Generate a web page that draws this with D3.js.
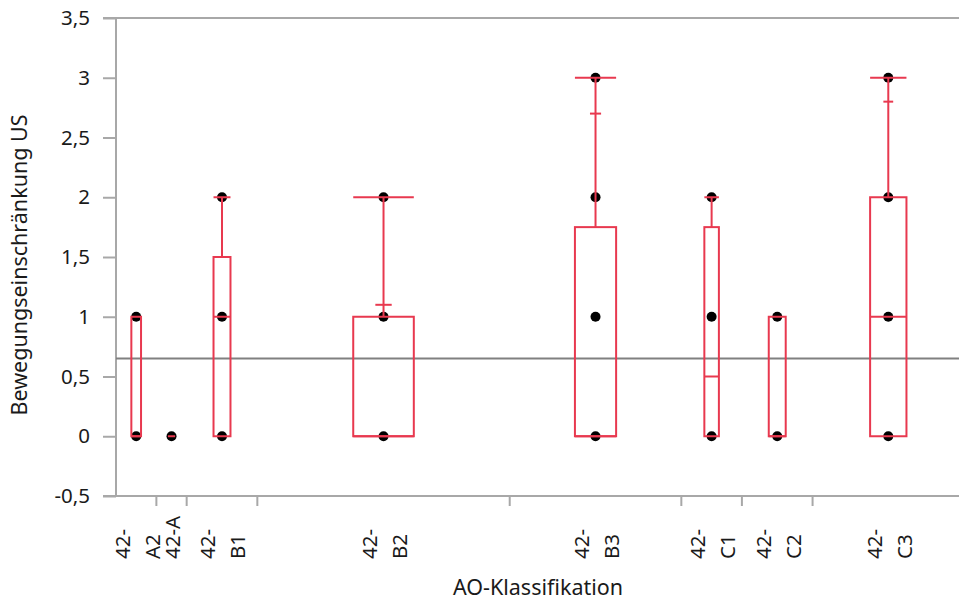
<!DOCTYPE html>
<html>
<head>
<meta charset="utf-8">
<script src="https://cdn.jsdelivr.net/npm/d3@7"></script>
<style>
  html, body { margin: 0; padding: 0; background: #fff; }
  svg { display: block; }
  text { font-family: "Noto Sans", "Open Sans", sans-serif; fill: #1a1a1a; }
</style>
</head>
<body>
<svg id="chart" width="959" height="601"></svg>
<script>
// ---- data ----
const categories = ["42-A2", "42-A", "42-B1", "42-B2", "42-B3", "42-C1", "42-C2", "42-C3"];
const labelLines = [["42-", "A2"], ["42-A"], ["42-", "B1"], ["42-", "B2"], ["42-", "B3"], ["42-", "C1"], ["42-", "C2"], ["42-", "C3"]];
const groupCounts = [4, 3, 7, 25, 17, 6, 7, 15];          // estimated group sizes (category widths)
const q1Values = [0, 0, 0, 0, 0, 0, 0, 0];
const medianValues = [0, 0, 1, 0, 0, 0.5, 0, 1];
const q3Values = [1, 0, 1.5, 1, 1.75, 1.75, 1, 2];
const maxValues = [1, 0, 2, 2, 3, 2, 1, 3];
const p90Values = [null, null, null, 1.1, 2.7, null, null, 2.8];
const pointValues = [[0, 1], [0], [0, 1, 2], [0, 1, 2], [0, 1, 2, 3], [0, 1, 2], [0, 1], [0, 1, 2, 3]];
const grandMean = 0.65;
const yTicks = [-0.5, 0, 0.5, 1, 1.5, 2, 2.5, 3, 3.5];
const yTitle = "Bewegungseinschränkung US";
const xTitle = "AO-Klassifikation";

// ---- layout ----
const svg = d3.select("#chart");
const mLeft = 116, mRight = 964, mTop = 18, mBottom = 496;
const red = "#e8394f", axisGray = "#a8a8a8";

const y = d3.scaleLinear().domain([-0.5, 3.5]).range([mBottom, mTop]);
const total = d3.sum(groupCounts);
const x = d3.scaleLinear().domain([0, total]).range([mLeft, mRight]);
const cum = [0];
groupCounts.forEach((c, i) => cum.push(cum[i] + c));
const groups = categories.map((name, i) => {
  const x0 = x(cum[i]), x1 = x(cum[i + 1]);
  return {
    name, i, x0, x1, cx: (x0 + x1) / 2, span: x1 - x0,
    q1: q1Values[i], med: medianValues[i], q3: q3Values[i],
    max: maxValues[i], p90: p90Values[i], pts: pointValues[i], lines: labelLines[i]
  };
});

const locale = d3.formatLocale({ decimal: ",", thousands: ".", grouping: [3], currency: ["", "€"], minus: "-" });
const fmt = locale.format("~g");

// frame top line
svg.append("line").attr("x1", mLeft - 13).attr("x2", 959).attr("y1", mTop).attr("y2", mTop)
  .attr("stroke", axisGray).attr("stroke-width", 2);

// y axis
const yAxis = svg.append("g").attr("transform", `translate(${mLeft},0)`)
  .call(d3.axisLeft(y).tickValues(yTicks).tickSize(13).tickPadding(13).tickFormat(fmt));
yAxis.select(".domain").remove();
yAxis.selectAll(".tick line").attr("stroke", axisGray).attr("stroke-width", 2);
yAxis.selectAll(".tick text").style("font-size", "20.5px").attr("fill", "#1a1a1a");
svg.append("line").attr("x1", mLeft).attr("x2", mLeft).attr("y1", mTop).attr("y2", mBottom)
  .attr("stroke", axisGray).attr("stroke-width", 2);

// x axis line and boundary ticks
svg.append("line").attr("x1", mLeft - 13).attr("x2", 959).attr("y1", mBottom).attr("y2", mBottom)
  .attr("stroke", axisGray).attr("stroke-width", 2);
svg.append("g").selectAll("line").data(cum.slice(1, -1)).join("line")
  .attr("x1", d => x(d)).attr("x2", d => x(d)).attr("y1", mBottom).attr("y2", mBottom + 10)
  .attr("stroke", axisGray).attr("stroke-width", 2);

// mean line
svg.append("line").attr("x1", mLeft).attr("x2", 959).attr("y1", y(grandMean)).attr("y2", y(grandMean))
  .attr("stroke", "#808080").attr("stroke-width", 2);

// points
const gp = svg.append("g");
groups.forEach(g => {
  gp.selectAll(null).data(g.pts).join("circle")
    .attr("cx", g.cx).attr("cy", d => y(d)).attr("r", 5).attr("fill", "#000");
});

// boxes
const gb = svg.append("g").attr("fill", "none").attr("stroke", red).attr("stroke-width", 2);
groups.forEach(g => {
  const bw = g.span * 0.24;
  const bx0 = g.cx - bw / 2, bx1 = g.cx + bw / 2;
  gb.append("rect").attr("x", bx0).attr("y", y(g.q3)).attr("width", bw).attr("height", Math.max(0, y(g.q1) - y(g.q3)));
  gb.append("line").attr("x1", bx0).attr("x2", bx1).attr("y1", y(g.med)).attr("y2", y(g.med));
  if (g.max > g.q3) {
    gb.append("line").attr("x1", g.cx).attr("x2", g.cx).attr("y1", y(g.q3)).attr("y2", y(g.max));
    gb.append("line").attr("x1", bx0).attr("x2", bx1).attr("y1", y(g.max)).attr("y2", y(g.max));
  }
  if (g.p90 != null) {
    const tw = bw * 0.27;
    gb.append("line").attr("x1", g.cx - tw / 2).attr("x2", g.cx + tw / 2).attr("y1", y(g.p90)).attr("y2", y(g.p90));
  }
});

// x category labels (rotated)
const gl = svg.append("g");
groups.forEach(g => {
  const n = g.lines.length;
  g.lines.forEach((t, k) => {
    const lx = g.cx + (k - (n - 1) / 2) * 30 + 1;
    gl.append("text").attr("transform", `translate(${lx},559) rotate(-90)`)
      .attr("dy", "0.36em").attr("text-anchor", "start").style("font-size", "20.5px").text(t);
  });
});

// titles
svg.append("text").attr("transform", `translate(27,${(mTop + mBottom) / 2 + 8}) rotate(-90)`)
  .attr("text-anchor", "middle").style("font-size", "21.5px").text(yTitle);
svg.append("text").attr("x", 538).attr("y", 595).attr("text-anchor", "middle")
  .style("font-size", "21.5px").text(xTitle);
</script>
</body>
</html>
